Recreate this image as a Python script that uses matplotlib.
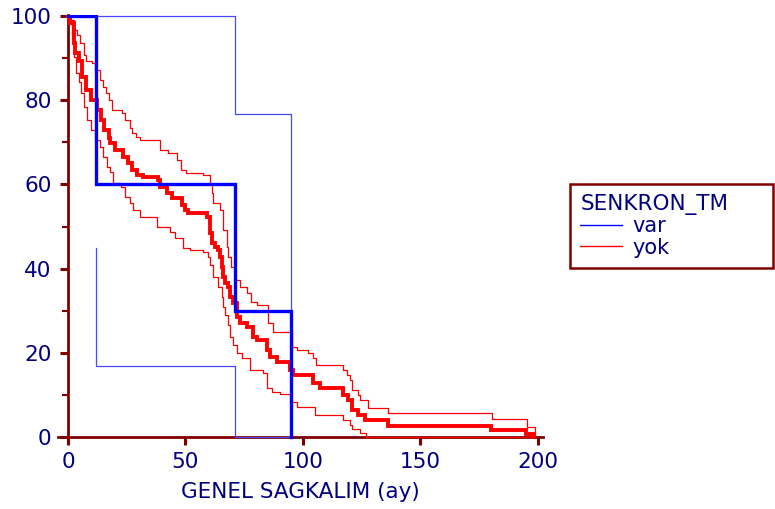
import matplotlib
matplotlib.use("Agg")
import matplotlib.pyplot as plt
from matplotlib.lines import Line2D
from matplotlib.ticker import MultipleLocator

plt.rcParams['font.family'] = ['DejaVu Sans']

# Kaplan-Meier survival (%) by group, with 95% confidence bands
var_t = [0, 11.8, 71.0, 94.9]
var_s = [100, 60, 30, 0]
var_hi_t = [0, 71.0, 94.9]
var_hi = [100, 76.6, 0]
var_lo_t = [11.8, 11.8, 71.0, 94.9]
var_lo = [44.8, 16.8, 0, 0]

yok_t = [0, 1.0, 2.4, 3.1, 4.5, 5.8, 7.5, 9.6, 12.2, 13.9, 15.2, 17.3, 17.7, 19.9,
         23.3, 25.4, 27.1, 29.2, 31.8, 38.2, 39.0, 42.0, 44.2, 48.4, 49.7, 51.0,
         59.1, 60.4, 61.2, 62.5, 63.8, 64.6, 65.5, 65.9, 66.8, 68.0, 68.9, 70.2,
         71.9, 73.2, 76.1, 78.7, 80.4, 84.7, 85.9, 88.9, 94.5, 95.7, 104.3, 107.3,
         117.0, 119.1, 120.9, 123.4, 126.4, 136.2, 180.2, 195.1, 198.2]
yok_s = [100, 98.2, 93.5, 91.1, 89.4, 85.4, 82.3, 80.0, 77.6, 75.2, 72.8, 70.9, 69.8, 68.1,
         66.4, 65.0, 63.3, 62.2, 61.7, 61.0, 59.3, 57.9, 56.7, 55.0, 53.9, 53.1,
         52.2, 48.4, 46.0, 45.1, 44.4, 42.7, 40.3, 38.0, 36.5, 35.6, 33.2, 31.8,
         28.5, 27.0, 26.1, 23.7, 23.0, 20.6, 19.0, 17.8, 15.9, 14.7, 12.8, 11.6,
         10.0, 8.8, 6.4, 5.2, 4.0, 2.6, 1.7, 0.8, 0]

yok_hi_t = [0, 1.0, 2.4, 3.7, 5.2, 6.7, 7.5, 10.0, 11.4, 13.5, 14.7, 16.0, 17.3, 18.6,
            22.8, 24.1, 26.3, 27.1, 28.8, 30.5, 39.0, 42.5, 46.2, 48.3, 50.4, 57.4,
            60.4, 61.1, 61.6, 64.6, 65.9, 67.5, 68.0, 69.6, 71.0, 73.1, 76.0, 78.1,
            80.3, 85.1, 87.2, 95.2, 97.3, 102.1, 104.3, 105.8, 117.0, 118.7, 120.0,
            120.9, 123.4, 124.3, 127.7, 136.2, 180.4, 195.4, 198.9]
yok_hi = [100, 99.0, 96.6, 95.4, 93.5, 90.6, 89.4, 88.7, 87.1, 84.7, 83.0, 81.6, 80.0, 77.6,
          76.9, 75.2, 73.3, 72.1, 71.2, 70.5, 68.1, 67.4, 65.7, 63.3, 62.6, 62.2,
          60.3, 57.9, 55.5, 53.9, 49.1, 45.1, 42.7, 40.3, 37.2, 35.6, 34.2, 32.0,
          31.3, 27.0, 24.9, 21.4, 20.6, 19.9, 18.7, 17.1, 15.9, 14.7, 13.5,
          11.2, 10.0, 8.8, 6.9, 5.7, 4.3, 2.4, 0]

yok_lo_t = [0, 0.3, 1.5, 2.4, 3.2, 4.5, 5.4, 6.7, 7.9, 9.6, 11.3, 13.5, 14.7, 16.4,
            17.7, 19.0, 22.7, 24.1, 26.2, 27.5, 30.5, 37.7, 43.3, 45.4, 48.8, 51.8,
            57.4, 59.5, 60.4, 61.6, 63.8, 65.4, 65.9, 66.8, 68.0, 68.9, 70.2, 71.9,
            74.0, 77.4, 82.9, 84.7, 86.8, 90.2, 94.5, 97.4, 105.1, 117.0, 120.0,
            120.9, 124.3, 127.1, 198.2]
yok_lo = [100, 98.2, 94.2, 90.2, 86.4, 84.3, 81.6, 78.3, 75.2, 72.8, 70.5, 68.8, 66.4, 64.1,
          62.9, 60.3, 59.3, 56.9, 55.5, 53.9, 52.2, 49.8, 48.6, 47.2, 44.8, 44.4,
          43.9, 42.7, 40.8, 38.0, 35.6, 33.2, 30.8, 28.9, 26.6, 23.7, 21.8, 19.9,
          18.7, 15.9, 15.2, 11.6, 10.7, 10.2, 8.3, 7.1, 5.2, 4.0, 2.8,
          1.9, 0.9, 0, 0]

x_ticks = [0, 50, 100, 150, 200]
y_ticks = [0, 20, 40, 60, 80, 100]
group_title = "SENKRON_TM"
group_labels = ["var", "yok"]
x_label = "GENEL SAGKALIM (ay)"

AXIS = "#800000"
TEXT = "#000080"
BLUE = "#0000ff"
BLUE_THIN = "#4747ff"
RED = "#ff0000"

fig = plt.figure(figsize=(7.75, 5.09), dpi=100)
ax = fig.add_axes([58 / 775, 1 - 441 / 509, (543 - 58) / 775, (441 - 15) / 509])

# "yok" group
ax.plot(yok_hi_t, yok_hi, drawstyle="steps-post", color=RED, lw=0.9, zorder=3)
ax.plot(yok_lo_t, yok_lo, drawstyle="steps-post", color=RED, lw=0.9, zorder=3)
ax.plot(yok_t, yok_s, drawstyle="steps-post", color=RED, lw=2.8, zorder=3,
        solid_joinstyle="miter")

# "var" group
ax.plot(var_hi_t, var_hi, drawstyle="steps-post", color=BLUE_THIN, lw=0.9, zorder=4)
ax.plot(var_lo_t, var_lo, drawstyle="steps-post", color=BLUE_THIN, lw=0.9, zorder=4)
ax.plot(var_t, var_s, drawstyle="steps-post", color=BLUE, lw=2.4, zorder=4,
        solid_joinstyle="miter")

ax.set_xlim(-4.3, 202.3)
ax.set_ylim(-0.9, 100.2)

for side in ("top", "right"):
    ax.spines[side].set_visible(False)
ax.spines["left"].set_position(("data", 0))
ax.spines["bottom"].set_position(("data", 0))
for side in ("left", "bottom"):
    ax.spines[side].set_color(AXIS)
    ax.spines[side].set_linewidth(2.0)

ax.set_xticks(x_ticks)
ax.set_yticks(y_ticks)
ax.yaxis.set_minor_locator(MultipleLocator(10))
ax.tick_params(axis="both", which="major", direction="out", length=6, width=2.2,
               color=AXIS, labelcolor=TEXT, labelsize=15.5)
ax.tick_params(axis="y", which="major", pad=6)
ax.tick_params(axis="x", which="major", pad=5)
ax.tick_params(axis="y", which="minor", direction="out", length=4, width=1.5, color=AXIS)

ax.set_xlabel(x_label, color=TEXT, fontsize=15.5, labelpad=7)

handles = [Line2D([], [], color=BLUE, lw=1.0), Line2D([], [], color=RED, lw=1.0)]
leg = fig.legend(handles, group_labels, title=group_title, loc="upper left",
                 bbox_to_anchor=(570 / 775, 1 - 266 / 509, 203 / 775, 82 / 509),
                 bbox_transform=fig.transFigure, mode="expand",
                 frameon=True, fancybox=False, edgecolor=AXIS, framealpha=1,
                 borderaxespad=0, fontsize=15, title_fontsize=15.5, handlelength=2.0,
                 handletextpad=0.5, labelspacing=0.05, borderpad=0.5, alignment="left")
leg.get_frame().set_linewidth(1.8)
leg.get_title().set_color(TEXT)
for t in leg.get_texts():
    t.set_color(TEXT)

fig.savefig("out.png", dpi=100)
